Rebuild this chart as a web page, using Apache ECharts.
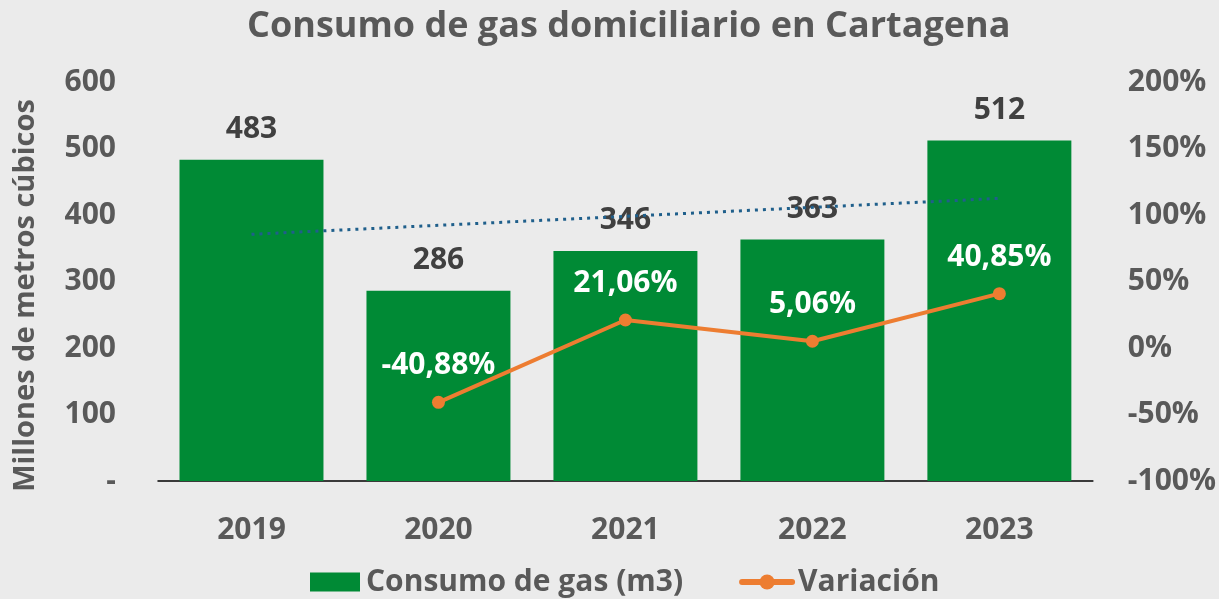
<!DOCTYPE html>
<html>
<head>
<meta charset="utf-8">
<script src="https://cdn.jsdelivr.net/npm/echarts@6/dist/echarts.min.js"></script>
<style>
  html, body { margin: 0; padding: 0; background: #ebebeb; }
  #chart { width: 1219px; height: 599px; }
</style>
</head>
<body>
<div id="chart"></div>
<script>
const years = ['2019', '2020', '2021', '2022', '2023'];
const consumo = [483, 286, 346, 363, 512];
const variacion = [null, -40.88, 21.06, 5.06, 40.85];
// trend line (start and end only)
const tendencia = [371, null, null, null, 425];

const font = '"Open Sans", sans-serif';
const gray = '#595959';

const chart = echarts.init(document.getElementById('chart'));
chart.setOption({
  backgroundColor: '#ebebeb',
  textStyle: { fontFamily: font },
  title: {
    text: 'Consumo de gas domiciliario en Cartagena',
    left: 242,
    top: 4,
    textStyle: { fontFamily: font, fontSize: 36, fontWeight: 'bold', color: gray }
  },
  legend: {
    bottom: -3,
    left: 305,
    itemWidth: 50,
    itemHeight: 19,
    itemGap: 56,
    textStyle: { fontFamily: font, fontSize: 30, fontWeight: 'bold', color: gray, padding: [0, 0, 0, 1] },
    data: [
      { name: 'Consumo de gas (m3)', icon: 'rect' },
      { name: 'Variación', lineStyle: { width: 6, cap: 'round' } }
    ]
  },
  grid: { left: 158, right: 126, top: 82, bottom: 118 },
  xAxis: {
    type: 'category',
    data: years,
    axisLine: { lineStyle: { color: '#000', width: 1.5 } },
    axisTick: { show: false },
    axisLabel: { fontFamily: font, fontSize: 30, fontWeight: 'bold', color: gray, margin: 34 }
  },
  yAxis: [
    {
      type: 'value',
      min: 0,
      max: 600,
      interval: 100,
      name: 'Millones de metros cúbicos',
      nameLocation: 'middle',
      nameGap: 118,
      nameTextStyle: { fontFamily: font, fontSize: 29, fontWeight: 'bold', color: gray, padding: [0, 28, 0, 0] },
      splitLine: { show: false },
      axisLine: { show: false },
      axisLabel: {
        fontFamily: font, fontSize: 30, fontWeight: 'bold', color: gray, margin: 42,
        formatter: v => v === 0 ? '-' : v
      }
    },
    {
      type: 'value',
      min: -100,
      max: 200,
      interval: 50,
      splitLine: { show: false },
      axisLine: { show: false },
      axisLabel: {
        fontFamily: font, fontSize: 30, fontWeight: 'bold', color: gray, margin: 35,
        formatter: v => v + '%'
      }
    }
  ],
  series: [
    {
      name: 'Consumo de gas (m3)',
      type: 'bar',
      data: consumo,
      barWidth: '77%',
      itemStyle: { color: '#008a35' },
      label: {
        show: true,
        position: 'top',
        distance: 15,
        fontFamily: font, fontSize: 30, fontWeight: 'bold', color: '#404040'
      },
      z: 1
    },
    {
      name: 'Tendencia',
      type: 'line',
      data: tendencia,
      connectNulls: true,
      symbol: 'none',
      silent: true,
      lineStyle: { color: '#1f5f8b', width: 3, type: [3, 5] },
      z: 2
    },
    {
      name: 'Variación',
      type: 'line',
      yAxisIndex: 1,
      data: variacion,
      symbol: 'circle',
      symbolSize: 13,
      itemStyle: { color: '#ed7d31' },
      lineStyle: { color: '#ed7d31', width: 4 },
      label: {
        show: true,
        position: 'top',
        distance: 15,
        fontFamily: font, fontSize: 30, fontWeight: 'bold', color: '#ffffff',
        formatter: p => p.value.toFixed(2).replace('.', ',') + '%'
      },
      z: 3
    }
  ]
});
</script>
</body>
</html>
